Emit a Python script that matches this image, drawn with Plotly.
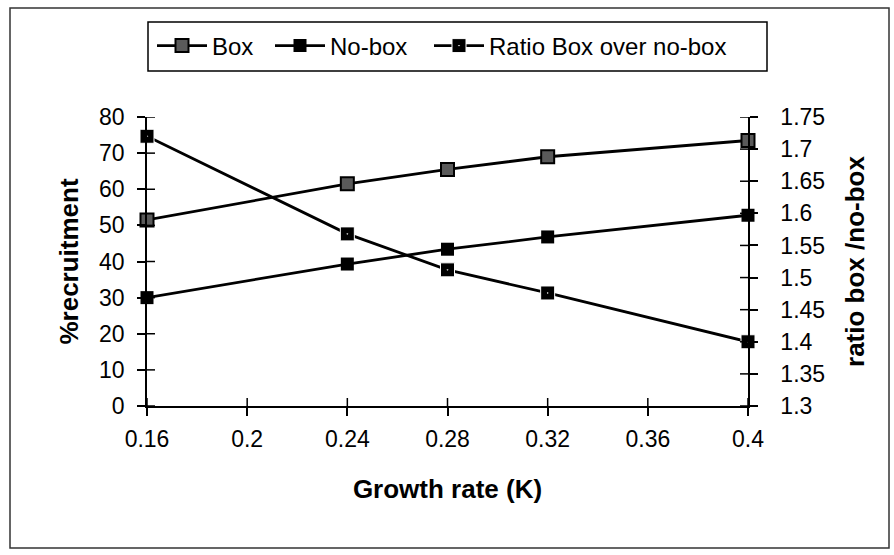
import plotly.graph_objects as go

# ---- data ----
growth_rate = [0.16, 0.24, 0.28, 0.32, 0.40]
box = [51.5, 61.5, 65.5, 69.0, 73.5]
no_box = [30.0, 39.3, 43.4, 46.8, 52.8]
ratio = [1.72, 1.568, 1.512, 1.476, 1.40]

x_ticks = [0.16, 0.2, 0.24, 0.28, 0.32, 0.36, 0.4]
x_tick_labels = ["0.16", "0.2", "0.24", "0.28", "0.32", "0.36", "0.4"]
y_ticks = [0, 10, 20, 30, 40, 50, 60, 70, 80]
y_tick_labels = ["0", "10", "20", "30", "40", "50", "60", "70", "80"]
y2_ticks = [1.3, 1.35, 1.4, 1.45, 1.5, 1.55, 1.6, 1.65, 1.7, 1.75]
y2_tick_labels = ["1.3", "1.35", "1.4", "1.45", "1.5", "1.55", "1.6", "1.65", "1.7", "1.75"]

X_RANGE = [0.16, 0.4]
Y_RANGE = [0, 80]
Y2_RANGE = [1.3, 1.75]

W, H = 894, 555
L, R, T, B = 147, 146, 117, 149
PW = W - L - R
PH = H - T - B

FONT_W = "Liberation Sans, Arial, Helvetica, sans-serif"
tick_font = dict(family=FONT_W, size=23, color="black")
title_font = dict(family=FONT_W, size=26, color="black", weight="bold")
leg_font = dict(family=FONT_W, size=24, color="black")


def px_x(p):
    return (p - L) / PW


def px_y(p):
    return (H - B - p) / PH


fig = go.Figure()
fig.add_trace(go.Scatter(
    x=growth_rate, y=box, name="Box", mode="lines+markers",
    line=dict(color="black", width=2.8),
    marker=dict(symbol="square", size=13, color="#5a5a5a",
                line=dict(color="black", width=2)),
    cliponaxis=False, legend="legend"))
fig.add_trace(go.Scatter(
    x=growth_rate, y=no_box, name="No-box", mode="lines+markers",
    line=dict(color="black", width=2.8),
    marker=dict(symbol="square", size=13, color="black",
                line=dict(color="black", width=0)),
    cliponaxis=False, legend="legend2"))
fig.add_trace(go.Scatter(
    x=growth_rate, y=ratio, name="Ratio Box over no-box", mode="lines+markers",
    yaxis="y2",
    line=dict(color="black", width=2.8),
    marker=dict(symbol="square-dot", size=14, color="black",
                line=dict(color="white", width=1)),
    cliponaxis=False, legend="legend3"))

axis_common = dict(showgrid=False, zeroline=False, ticks="outside", ticklen=8,
                   tickwidth=1.5, tickcolor="black", showline=True,
                   linecolor="black", linewidth=1.5, tickfont=tick_font)

# "cross" tick marks (Excel style): short lines centred on each axis tick,
# positioned through the axes' own scales with pixel-sized lengths
shapes = []
tick_line = dict(color="black", width=1.5)
for v in x_ticks:
    shapes.append(dict(type="line", xref="x", yref="y", ysizemode="pixel",
                       yanchor=Y_RANGE[0], x0=v, x1=v, y0=-8, y1=8,
                       line=tick_line, layer="above"))
for v in y_ticks:
    shapes.append(dict(type="line", xref="x", yref="y", xsizemode="pixel",
                       xanchor=X_RANGE[0], x0=-8, x1=8, y0=v, y1=v,
                       line=tick_line, layer="above"))
for v in y2_ticks:
    shapes.append(dict(type="line", xref="x", yref="y2", xsizemode="pixel",
                       xanchor=X_RANGE[1], x0=-8, x1=8, y0=v, y1=v,
                       line=tick_line, layer="above"))

# outer chart frame and legend frame
shapes.append(dict(type="rect", xref="paper", yref="paper",
                   x0=px_x(10), x1=px_x(889), y0=px_y(548), y1=px_y(8),
                   line=dict(color="#333", width=1.5), fillcolor="rgba(0,0,0,0)"))
shapes.append(dict(type="rect", xref="paper", yref="paper",
                   x0=px_x(148), x1=px_x(767), y0=px_y(71), y1=px_y(22),
                   line=dict(color="black", width=1.5), fillcolor="rgba(0,0,0,0)"))

leg_common = dict(xref="container", y=1 - 46 / H, yref="container",
                  xanchor="left", yanchor="middle", orientation="h", itemwidth=50,
                  bgcolor="rgba(0,0,0,0)", borderwidth=0, font=leg_font)

fig.update_layout(
    width=W, height=H, autosize=False,
    margin=dict(l=L, r=R, t=T, b=B),
    paper_bgcolor="white", plot_bgcolor="white",
    xaxis=dict(range=X_RANGE, tickvals=x_ticks, ticktext=x_tick_labels,
               ticklabelstandoff=4,
               title=dict(text="Growth rate (K)", font=title_font, standoff=28),
               **axis_common),
    yaxis=dict(range=Y_RANGE, tickvals=y_ticks, ticktext=y_tick_labels,
               ticklabelstandoff=8,
               title=dict(text="%recruitment", font=title_font, standoff=13),
               **axis_common),
    yaxis2=dict(range=Y2_RANGE, tickvals=y2_ticks, ticktext=y2_tick_labels,
                overlaying="y", side="right", anchor="x",
                ticklabelstandoff=18,
                title=dict(text="ratio box /no-box", font=title_font, standoff=22),
                **axis_common),
    showlegend=True,
    legend=dict(x=152 / W, **leg_common),
    legend2=dict(x=270 / W, **leg_common),
    legend3=dict(x=429 / W, **leg_common),
    shapes=shapes,
)

fig.write_html("out.html")
